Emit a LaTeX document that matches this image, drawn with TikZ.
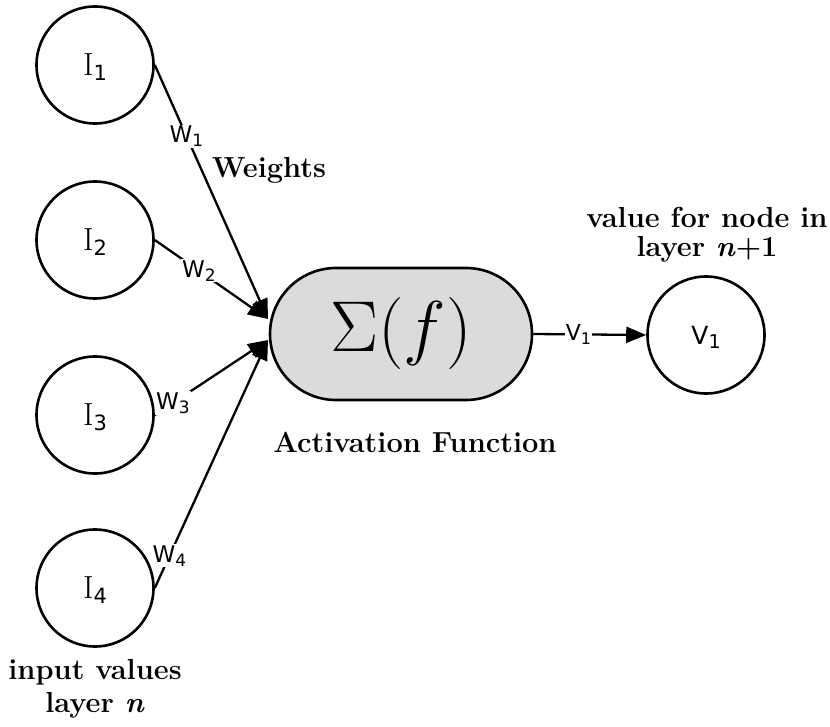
\RequirePackage{fix-cm}
\documentclass[tikz,border=0pt]{standalone}
\usepackage{fontspec}
\usetikzlibrary{arrows.meta,shapes.misc}
\newfontfamily\dejavu{DejaVu Sans}
% weight / value labels: sans letter with a small sans digit below the baseline
\newcommand{\wlab}[4]{{\dejavu\fontsize{#3}{#3}\selectfont #1\raisebox{-4pt}{\fontsize{#4}{#4}\selectfont #2}}}
\newcommand{\ilab}[1]{{\fontsize{32}{34}\selectfont I\raisebox{-5pt}{\dejavu\fontsize{21}{21}\selectfont #1}}}
\tikzset{
  neuron/.style={draw, circle, line width=2.6pt, minimum size=117pt, inner sep=0pt,
                 text height=26pt, text depth=5pt},
  actbox/.style={draw, rounded rectangle, line width=2.6pt, fill=black!14,
                 minimum width=262pt, minimum height=132pt, inner sep=0pt},
  conn/.style={line width=2.3pt},
  arr/.style={conn, -{Triangle[length=20pt,width=16pt]}},
  wtag/.style={fill=white, inner sep=1pt},
  caption/.style={font=\fontsize{29}{32}\selectfont\bfseries, align=center}
}
\begin{document}
\begin{tikzpicture}[x=1pt,y=-1pt]
  \useasboundingbox (0,0) rectangle (830,727);

  % input neurons of layer n
  \node[neuron] (i1) at (95,65)  {\ilab{1}};
  \node[neuron] (i2) at (95,240) {\ilab{2}};
  \node[neuron] (i3) at (95,415) {\ilab{3}};
  \node[neuron] (i4) at (95,588) {\ilab{4}};

  % summation / activation unit
  \node[actbox] (act) at (401,334) {\fontsize{72}{80}\selectfont$\Sigma(f)$};

  % output neuron of layer n+1
  \node[neuron, text height=24pt] (v1) at (706,335) {\wlab{V}{1}{25}{19}};

  % points where the weighted inputs meet the unit
  \coordinate (tipA) at (268,319);
  \coordinate (tipB) at (268,340);

  % weighted connections
  \draw[arr] (i1.east) -- node[wtag, pos=0.28] {\wlab{W}{1}{23}{17}} (tipA);
  \draw[arr] (i2.east) -- node[wtag, pos=0.39] {\wlab{W}{2}{23}{17}} (tipA);
  \draw[arr] (i3.east) -- node[wtag, pos=0.16] {\wlab{W}{3}{23}{17}} (tipB);
  \draw[arr] (i4.east) -- node[wtag, pos=0.13] {\wlab{W}{4}{23}{17}} (tipB);

  % output connection
  \draw[arr] (act.east) -- node[wtag, pos=0.40] {\wlab{V}{1}{22}{16}} (v1.west);

  % captions
  \node[caption, anchor=base] (wcap) at (269,178) {Weights};
  \node[caption, anchor=base] (acap) at (415,452) {Activation Function};
  \node[caption, font=\fontsize{29}{29}\selectfont\bfseries] (vcap) at (707,235)
       {value for node in\\layer \textit{n}+1};
  \node[caption, font=\fontsize{29}{33}\selectfont\bfseries] (icap) at (95,689)
       {input values\\layer \textit{n}};
\end{tikzpicture}
\end{document}
